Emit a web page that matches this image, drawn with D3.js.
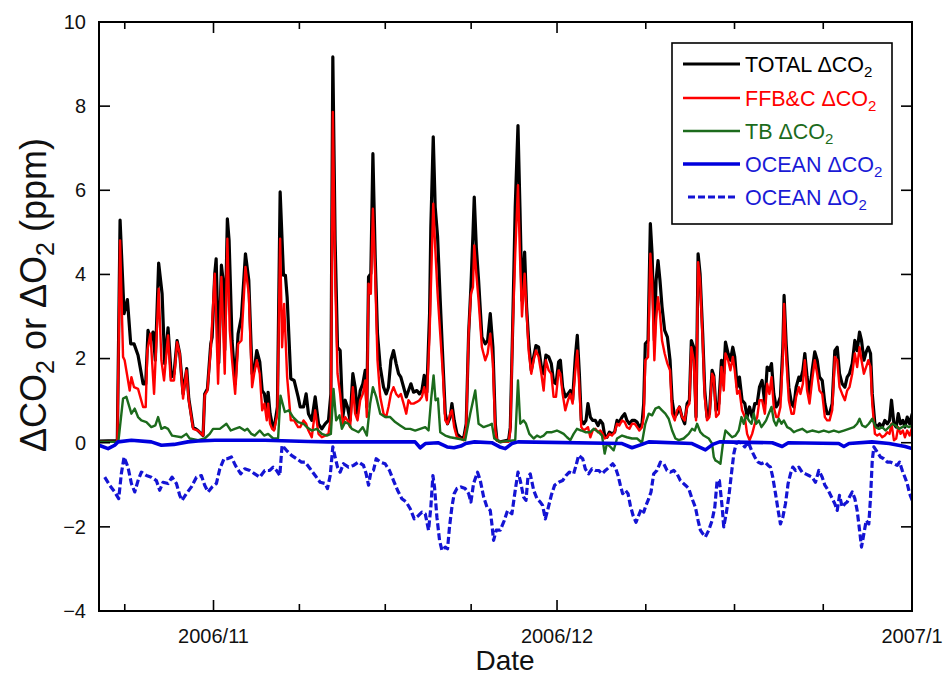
<!DOCTYPE html>
<html>
<head>
<meta charset="utf-8">
<script src="https://cdn.jsdelivr.net/npm/d3@7"></script>
<style>
  html, body { margin: 0; padding: 0; background: #fff; }
  svg { display: block; font-family: "Liberation Sans", Arial, Helvetica, sans-serif; }
</style>
</head>
<body>
<svg id="chart" width="945" height="676"></svg>
<script>
// Time is given in days since 2006-10-22 00:00 UTC; values in ppm.
const startUTC = Date.UTC(2006, 9, 22);
const endUTC = Date.UTC(2007, 0, 1);

const totalCO2 = [
  [0,0.04],[1.60,0.05],[1.84,5.29],[2.19,3.07],[2.48,3.40],[2.77,2.35],[3.06,2.35],[3.41,2.08],[3.85,1.40],[4.08,1.40],
  [4.28,2.67],[4.49,2.43],[4.72,2.63],[4.92,1.96],[5.21,4.27],[5.51,3.54],[5.74,1.88],[6.03,2.73],[6.32,1.56],[6.55,1.64],
  [6.82,2.43],[7.05,2.12],[7.34,1.16],[7.66,1.76],[7.84,1.05],[8.22,0.37],[8.65,0.29],[9.09,0.17],[9.23,1.16],[9.47,1.28],
  [9.76,2.35],[9.88,2.51],[10.11,4.02],[10.23,4.37],[10.46,1.90],[10.69,4.22],[10.84,3.86],[10.98,2.20],[11.21,5.32],[11.36,4.81],
  [11.62,2.43],[11.89,1.40],[12.15,2.59],[12.44,2.99],[12.79,4.49],[13.08,3.86],[13.37,1.64],[13.55,1.72],[13.78,2.19],[14.04,1.92],
  [14.25,1.24],[14.45,1.16],[14.65,0.77],[14.77,1.20],[14.94,0.69],[15.12,0.45],[15.29,0.33],[15.58,0.85],[15.82,5.96],[16.11,3.98],
  [16.28,3.98],[16.43,3.46],[16.75,1.52],[17.04,1.48],[17.39,1.09],[17.57,0.85],[17.86,0.85],[18.09,1.16],[18.29,0.69],[18.58,0.53],
  [18.88,1.09],[19.17,0.45],[19.46,0.33],[19.75,0.45],[20.04,0.53],[20.25,1.16],[20.42,9.17],[20.62,4.80],[20.83,2.27],[21.06,2.19],
  [21.29,0.61],[21.50,1.01],[21.70,0.85],[21.93,0.53],[22.17,1.64],[22.37,1.32],[22.58,0.69],[22.81,1.24],[23.04,1.40],[23.25,1.72],
  [23.39,0.85],[23.54,3.94],[23.74,4.02],[23.92,6.87],[24.12,4.41],[24.32,2.59],[24.56,1.80],[24.85,1.32],[25.08,1.16],[25.28,1.32],
  [25.49,1.96],[25.72,2.19],[25.95,1.88],[26.16,1.64],[26.36,1.56],[26.60,1.32],[26.83,1.09],[27.03,1.24],[27.24,1.40],[27.47,1.20],
  [27.76,1.24],[27.99,1.16],[28.20,1.24],[28.40,1.60],[28.63,1.20],[28.87,3.07],[28.98,5.13],[29.19,7.27],[29.36,5.60],[29.57,4.89],
  [29.80,3.38],[30.03,1.96],[30.24,0.69],[30.44,0.45],[30.67,0.61],[30.82,0.93],[31.02,0.53],[31.26,0.21],[31.55,0.13],[31.84,0.10],
  [32.07,0.45],[32.28,2.59],[32.48,3.70],[32.66,4.97],[32.77,5.84],[32.95,4.65],[33.15,3.86],[33.44,2.51],[33.73,2.35],[33.94,2.43],
  [34.17,3.07],[34.40,2.27],[34.61,0.45],[34.75,0.06],[35.04,0.02],[35.77,0.06],[35.92,0.37],[36.12,2.67],[36.35,5.60],[36.59,7.54],
  [36.76,5.60],[36.94,3.38],[37.17,4.53],[37.34,3.23],[37.52,2.43],[37.75,1.72],[37.96,2.04],[38.16,2.31],[38.39,2.27],[38.63,1.80],
  [38.83,1.64],[39.03,2.08],[39.27,2.04],[39.50,1.88],[39.70,1.44],[39.91,1.40],[40.14,1.92],[40.29,1.96],[40.49,1.32],[40.72,1.09],
  [40.96,1.16],[41.16,1.24],[41.36,1.01],[41.60,2.04],[41.77,2.55],[41.95,1.64],[42.12,0.53],[42.33,0.45],[42.53,0.53],[42.70,0.93],
  [42.91,0.61],[43.11,0.53],[43.35,0.53],[43.58,0.41],[43.78,0.53],[43.99,0.45],[44.16,0.17],[44.36,0.13],[44.57,0.25],[44.80,0.21],
  [45.03,0.25],[45.24,0.53],[45.44,0.49],[45.68,0.61],[45.91,0.69],[46.11,0.53],[46.32,0.45],[46.55,0.53],[46.78,0.53],[46.99,0.49],
  [47.19,0.37],[47.42,0.45],[47.57,0.93],[47.71,2.35],[47.95,2.43],[48.15,5.21],[48.30,4.49],[48.50,2.43],[48.65,3.86],[48.82,4.33],
  [48.99,3.86],[49.17,3.23],[49.40,2.67],[49.64,2.51],[49.87,1.96],[50.05,1.01],[50.28,0.61],[50.48,0.69],[50.69,0.85],[50.92,0.61],
  [51.15,0.45],[51.36,0.93],[51.56,1.01],[51.73,2.43],[51.94,2.27],[52.14,0.61],[52.32,4.49],[52.49,4.02],[52.72,2.59],[52.90,1.24],
  [53.10,0.61],[53.31,0.69],[53.54,1.72],[53.69,1.60],[53.89,0.77],[54.13,0.93],[54.36,1.96],[54.56,1.64],[54.71,2.39],[54.94,2.12],
  [55.14,1.96],[55.35,2.27],[55.52,2.04],[55.73,1.32],[55.93,1.56],[56.16,1.01],[56.40,0.93],[56.60,0.61],[56.81,0.85],[57.04,0.61],
  [57.27,0.93],[57.48,0.93],[57.68,1.32],[57.91,1.48],[58.15,0.93],[58.35,1.80],[58.55,1.72],[58.73,1.88],[58.93,1.16],[59.14,0.85],
  [59.31,0.93],[59.51,1.09],[59.72,2.27],[59.83,3.50],[60.01,2.35],[60.24,1.32],[60.48,0.93],[60.68,0.85],[60.88,1.32],[61.12,1.56],
  [61.26,1.48],[61.47,1.72],[61.64,2.12],[61.84,1.56],[62.05,1.16],[62.28,1.72],[62.51,2.16],[62.72,1.96],[62.92,1.56],[63.16,1.48],
  [63.39,0.93],[63.59,0.69],[63.80,0.69],[64.03,0.93],[64.26,2.19],[64.47,2.27],[64.67,1.64],[64.90,1.40],[65.14,1.32],[65.34,1.56],
  [65.54,1.64],[65.78,1.88],[66.01,2.43],[66.21,2.19],[66.42,2.63],[66.59,2.43],[66.80,1.96],[67.00,2.16],[67.18,2.27],[67.38,2.12],
  [67.53,1.16],[67.76,0.45],[67.96,0.37],[68.17,0.45],[68.40,0.37],[68.63,0.53],[68.84,0.45],[69.04,0.53],[69.21,1.01],[69.42,0.45],
  [69.62,0.37],[69.80,0.69],[70.00,0.45],[70.20,0.53],[70.38,0.37],[70.58,0.61],[70.79,0.45],[71.02,0.69]
];

const ffbcCO2 = [
  [0,0.02],[1.60,0.02],[1.84,4.81],[2.10,2.04],[2.24,1.96],[2.68,1.24],[2.83,1.56],[3.06,1.32],[3.41,1.28],[3.85,0.85],
  [4.08,0.85],[4.22,2.19],[4.49,2.59],[4.81,1.16],[5.21,3.66],[5.45,1.96],[5.68,1.48],[6.03,2.55],[6.26,1.48],[6.55,1.48],
  [6.82,2.39],[7.05,2.12],[7.34,1.05],[7.63,1.72],[7.84,1.01],[8.22,0.33],[8.65,0.29],[9.09,0.17],[9.23,1.13],[9.47,1.24],
  [9.76,2.23],[10.11,4.02],[10.40,1.40],[10.69,3.94],[10.98,1.64],[11.21,4.85],[11.42,2.67],[11.62,1.96],[11.89,1.16],[12.15,2.35],
  [12.44,2.43],[12.79,4.18],[13.08,3.54],[13.37,1.32],[13.55,1.64],[13.78,1.96],[14.04,1.64],[14.25,0.77],[14.45,0.93],[14.65,0.53],
  [14.77,0.93],[14.94,0.45],[15.12,0.33],[15.29,0.29],[15.58,0.69],[15.82,4.85],[15.99,2.27],[16.17,3.30],[16.43,1.56],[16.75,0.53],
  [17.04,0.53],[17.39,0.37],[17.57,0.37],[17.86,0.53],[18.09,0.45],[18.29,0.29],[18.58,0.13],[18.88,0.77],[19.17,0.21],[19.46,0.13],
  [19.75,0.17],[20.04,0.21],[20.25,0.61],[20.42,7.86],[20.62,4.00],[20.83,1.64],[21.06,1.16],[21.29,0.45],[21.50,0.61],[21.70,0.53],
  [21.93,0.37],[22.17,1.32],[22.37,0.69],[22.58,0.53],[22.81,1.01],[23.04,1.16],[23.25,1.48],[23.39,0.61],[23.54,3.78],[23.74,3.54],
  [23.92,5.56],[24.12,4.02],[24.32,1.96],[24.56,1.09],[24.85,0.69],[25.08,0.61],[25.28,0.85],[25.49,1.16],[25.72,1.32],[25.95,1.16],
  [26.16,1.09],[26.36,1.16],[26.60,0.93],[26.83,0.69],[27.03,1.01],[27.24,0.93],[27.47,0.93],[27.76,0.97],[27.99,1.01],[28.20,1.09],
  [28.40,1.32],[28.63,1.01],[28.87,2.59],[29.19,5.68],[29.36,4.65],[29.57,3.54],[29.80,2.59],[30.03,1.64],[30.24,0.53],[30.44,0.45],
  [30.67,0.69],[30.82,0.77],[31.02,0.37],[31.26,0.13],[31.55,0.10],[31.84,0.06],[32.07,0.37],[32.28,2.59],[32.48,3.54],[32.66,3.70],
  [32.77,4.69],[32.95,4.02],[33.15,3.38],[33.44,2.27],[33.73,1.96],[33.94,2.12],[34.17,2.59],[34.40,1.88],[34.61,0.29],[34.75,0.06],
  [35.04,0.02],[35.77,0.02],[35.92,0.29],[36.12,2.59],[36.35,4.49],[36.59,6.12],[36.76,4.49],[36.94,3.00],[37.17,4.02],[37.34,3.15],
  [37.52,2.19],[37.75,1.64],[37.96,1.96],[38.16,2.19],[38.39,2.04],[38.63,1.64],[38.83,1.24],[39.03,1.96],[39.27,1.72],[39.50,1.64],
  [39.70,1.09],[39.91,1.09],[40.14,1.72],[40.29,1.64],[40.49,1.16],[40.72,0.77],[40.96,1.01],[41.16,1.16],[41.36,0.93],[41.60,1.72],
  [41.77,2.19],[41.95,1.32],[42.12,0.37],[42.33,0.29],[42.53,0.33],[42.70,0.37],[42.91,0.13],[43.11,0.29],[43.35,0.33],[43.58,0.25],
  [43.78,0.29],[43.99,0.21],[44.16,0.10],[44.36,0.13],[44.57,0.21],[44.80,0.17],[45.03,0.25],[45.24,0.45],[45.44,0.41],[45.68,0.53],
  [45.91,0.49],[46.11,0.37],[46.32,0.33],[46.55,0.45],[46.78,0.45],[46.99,0.37],[47.19,0.29],[47.42,0.37],[47.57,0.61],[47.71,1.96],
  [47.95,2.04],[48.15,4.49],[48.30,3.86],[48.50,1.96],[48.65,2.91],[48.82,3.46],[48.99,3.07],[49.17,2.43],[49.40,2.12],[49.64,1.88],
  [49.87,1.72],[50.05,0.69],[50.28,0.53],[50.48,0.77],[50.69,0.85],[50.92,0.61],[51.15,0.53],[51.36,0.85],[51.56,0.93],[51.73,2.27],
  [51.94,1.96],[52.14,0.53],[52.32,4.29],[52.49,3.86],[52.72,2.43],[52.90,1.09],[53.10,0.53],[53.31,0.61],[53.54,1.64],[53.69,1.56],
  [53.89,0.61],[54.13,0.69],[54.36,1.80],[54.56,1.24],[54.71,2.12],[54.94,1.96],[55.14,1.72],[55.35,2.04],[55.52,1.72],[55.73,1.16],
  [55.93,1.24],[56.16,0.77],[56.40,0.61],[56.60,0.21],[56.81,0.06],[57.04,0.21],[57.27,0.45],[57.48,0.61],[57.68,1.01],[57.91,1.01],
  [58.15,0.69],[58.35,1.40],[58.55,1.16],[58.73,1.56],[58.93,0.85],[59.14,0.61],[59.31,0.61],[59.51,0.85],[59.72,2.04],[59.83,3.30],
  [60.01,2.04],[60.24,1.01],[60.48,0.69],[60.68,0.69],[60.88,1.09],[61.12,1.32],[61.26,1.16],[61.47,1.40],[61.64,1.96],[61.84,1.24],
  [62.05,0.93],[62.28,1.48],[62.51,1.96],[62.72,1.64],[62.92,1.24],[63.16,1.16],[63.39,0.61],[63.59,0.53],[63.80,0.53],[64.03,0.77],
  [64.26,2.04],[64.47,1.96],[64.67,1.32],[64.90,1.16],[65.14,1.01],[65.34,1.24],[65.54,1.32],[65.78,1.64],[66.01,2.12],[66.21,1.80],
  [66.42,2.27],[66.59,1.96],[66.80,1.64],[67.00,1.80],[67.18,1.96],[67.38,1.80],[67.53,0.93],[67.76,0.21],[67.96,0.17],[68.17,0.21],
  [68.40,0.13],[68.63,0.17],[68.84,0.25],[69.04,0.21],[69.21,0.45],[69.42,0.06],[69.62,0.10],[69.80,0.37],[70.00,0.21],[70.20,0.29],
  [70.38,0.13],[70.58,0.29],[70.79,0.17],[71.02,0.37]
];

const tbCO2 = [
  [0,0.02],[1.69,0.02],[2.10,1.05],[2.39,1.09],[2.83,0.69],[3.12,0.81],[3.41,0.61],[3.70,0.53],[4.14,0.49],[4.57,0.37],
  [4.92,0.41],[5.16,0.61],[5.45,0.33],[5.74,0.37],[6.03,0.33],[6.38,0.17],[7.20,0.13],[7.63,0.21],[7.92,0.10],[8.65,0.06],
  [9.23,0.10],[9.67,0.21],[9.96,0.33],[10.55,0.33],[11.13,0.45],[11.51,0.29],[11.86,0.33],[12.29,0.37],[12.73,0.29],[12.96,0.33],
  [13.31,0.21],[13.60,0.17],[14.04,0.29],[14.42,0.17],[14.77,0.21],[15.21,0.10],[15.64,0.10],[15.85,1.12],[16.23,0.73],[16.58,0.77],
  [16.95,0.61],[17.39,0.49],[17.86,0.45],[18.15,0.37],[18.58,0.29],[19.02,0.33],[19.46,0.21],[19.90,0.17],[20.25,0.21],[20.48,1.28],
  [20.71,0.53],[21.00,0.65],[21.21,0.33],[21.50,0.49],[21.79,0.45],[22.08,0.33],[22.37,0.29],[22.66,0.25],[23.04,0.37],[23.39,0.17],
  [23.68,0.93],[23.92,1.32],[24.21,1.09],[24.56,0.69],[24.99,0.61],[25.43,0.61],[25.87,0.49],[26.30,0.41],[26.74,0.33],[27.18,0.33],
  [27.61,0.29],[28.05,0.33],[28.49,0.37],[28.78,0.29],[29.01,1.05],[29.22,1.60],[29.39,1.01],[29.60,1.05],[29.80,0.25],[30.24,0.17],
  [30.67,0.13],[31.26,0.10],[31.98,0.06],[32.42,0.69],[32.86,1.24],[33.15,0.45],[33.59,0.37],[34.02,0.41],[34.31,0.45],[34.52,0.10],
  [35.04,0.02],[36.35,0.06],[36.59,1.48],[36.79,0.45],[37.08,0.53],[37.29,0.45],[37.58,0.21],[37.96,0.10],[38.25,0.17],[38.54,0.13],
  [38.83,0.17],[39.12,0.25],[39.56,0.25],[39.99,0.29],[40.29,0.25],[40.58,0.21],[40.87,0.13],[41.16,0.06],[41.45,0.21],[41.74,0.33],
  [42.12,0.29],[42.47,0.25],[42.91,0.25],[43.20,0.33],[43.64,0.25],[43.93,0.17],[44.16,-0.26],[44.36,-0.02],[44.66,-0.10],[44.95,-0.18],
  [45.24,0.10],[45.68,0.17],[46.11,0.13],[46.55,0.10],[46.99,0.10],[47.42,0.00],[47.71,0.45],[48.01,0.69],[48.30,0.65],[48.59,0.81],
  [48.88,0.85],[49.17,0.77],[49.46,0.69],[49.75,0.57],[50.05,0.29],[50.34,0.10],[50.63,0.06],[51.06,0.10],[51.50,0.21],[51.79,0.33],
  [52.03,0.29],[52.23,0.45],[52.52,0.25],[52.81,0.17],[53.25,0.10],[53.54,-0.02],[53.69,-0.34],[53.83,-0.42],[54.07,-0.46],[54.27,-0.50],
  [54.47,-0.06],[54.71,0.29],[55.00,0.21],[55.29,0.13],[55.58,0.17],[55.87,0.29],[56.11,0.61],[56.31,0.45],[56.51,0.65],[56.75,0.53],
  [56.98,0.45],[57.18,0.69],[57.39,0.45],[57.62,0.53],[57.85,0.37],[58.06,0.45],[58.26,0.53],[58.49,0.69],[58.73,0.85],[58.93,0.53],
  [59.14,0.41],[59.37,0.57],[59.60,0.45],[59.81,0.53],[60.10,0.37],[60.39,0.33],[60.68,0.25],[60.97,0.29],[61.41,0.33],[61.84,0.25],
  [62.28,0.29],[62.86,0.25],[63.30,0.29],[63.74,0.25],[64.18,0.29],[64.61,0.25],[65.05,0.29],[65.49,0.33],[65.92,0.37],[66.21,0.45],
  [66.42,0.57],[66.65,0.41],[66.94,0.37],[67.23,0.45],[67.53,0.57],[67.82,0.37],[68.11,0.33],[68.40,0.37],[68.69,0.29],[68.98,0.37],
  [69.27,0.45],[69.56,0.41],[69.86,0.33],[70.15,0.37],[70.44,0.41],[70.73,0.37],[71.02,0.41]
];

const oceanCO2 = [
  [0,-0.06],[0.79,-0.14],[1.37,-0.06],[1.66,0.02],[2.83,0.06],[4.57,0.02],[5.45,-0.06],[6.55,-0.04],[7.76,0.02],[8.65,0.04],
  [10.11,0.06],[14.48,0.06],[18.26,0.03],[20.00,0.02],[27.60,0.02],[28.05,-0.12],[28.50,-0.02],[29.60,0.00],[30.40,-0.10],[31.00,-0.12],
  [31.60,-0.08],[32.00,-0.02],[32.80,0.02],[34.30,0.00],[35.00,-0.10],[35.48,-0.14],[36.06,-0.02],[36.59,0.02],[45.68,-0.02],[46.55,-0.12],
  [47.42,-0.04],[48.01,0.02],[51.79,-0.02],[52.96,-0.17],[53.60,-0.04],[54.20,0.02],[58.80,0.00],[59.66,-0.09],[60.20,0.00],[64.60,-0.02],
  [65.05,-0.09],[65.50,-0.02],[67.50,0.02],[69.00,-0.02],[70.40,-0.09],[71.02,-0.14]
];

const oceanO2 = [
  [0.50,-0.82],[0.93,-1.01],[1.37,-1.17],[1.72,-1.33],[1.95,-0.74],[2.19,-0.34],[2.53,-0.58],[2.83,-0.97],[3.12,-1.17],[3.41,-0.90],
  [3.70,-0.70],[4.14,-0.78],[4.57,-0.82],[5.01,-0.90],[5.30,-1.13],[5.59,-0.94],[6.03,-0.97],[6.38,-0.82],[6.76,-0.97],[7.05,-1.25],
  [7.25,-1.37],[7.63,-1.21],[8.07,-1.05],[8.51,-0.82],[8.94,-0.78],[9.23,-1.01],[9.53,-1.17],[9.88,-1.05],[10.25,-0.97],[10.55,-0.62],
  [10.92,-0.38],[11.21,-0.38],[11.56,-0.34],[11.91,-0.54],[12.38,-0.74],[12.73,-0.62],[13.17,-0.66],[13.60,-0.74],[14.04,-0.82],[14.48,-0.66],
  [14.91,-0.66],[15.21,-0.58],[15.50,-0.66],[15.79,-0.78],[15.99,-0.06],[16.37,-0.18],[16.81,-0.30],[17.25,-0.38],[17.68,-0.46],[18.00,-0.46],
  [18.44,-0.62],[18.88,-0.78],[19.31,-0.94],[19.75,-0.97],[19.95,-1.09],[20.19,-0.78],[20.42,-0.10],[20.62,-0.34],[20.83,-0.58],[21.06,-0.70],
  [21.35,-0.50],[21.79,-0.58],[22.23,-0.54],[22.66,-0.46],[23.10,-0.54],[23.33,-0.74],[23.54,-1.01],[23.74,-0.70],[23.97,-0.66],[24.21,-0.38],
  [24.56,-0.46],[24.99,-0.50],[25.37,-0.66],[25.72,-0.90],[26.07,-1.13],[26.45,-1.33],[26.83,-1.41],[27.18,-1.57],[27.53,-1.81],[27.91,-1.73],
  [28.20,-1.65],[28.49,-1.69],[28.78,-2.08],[28.98,-1.53],[29.16,-0.78],[29.30,-1.05],[29.51,-1.77],[29.74,-2.32],[29.95,-2.56],[30.24,-2.48],
  [30.44,-2.52],[30.61,-2.00],[30.82,-1.53],[31.02,-1.21],[31.26,-1.09],[31.61,-1.05],[31.98,-1.09],[32.28,-1.21],[32.48,-1.41],[32.71,-0.97],
  [33.06,-0.70],[33.30,-0.90],[33.59,-1.29],[33.88,-1.53],[34.17,-1.61],[34.31,-1.93],[34.46,-2.32],[34.69,-2.08],[35.04,-2.08],[35.39,-1.85],
  [35.63,-1.65],[35.71,-1.61],[36.06,-1.69],[36.35,-1.13],[36.59,-0.70],[36.79,-0.90],[37.08,-1.29],[37.29,-1.37],[37.46,-0.82],[37.66,-0.74],
  [37.96,-1.13],[38.25,-1.33],[38.54,-1.41],[38.74,-1.49],[38.98,-1.81],[39.21,-1.57],[39.50,-1.25],[39.79,-1.01],[40.14,-0.94],[40.49,-0.90],
  [40.78,-0.78],[41.07,-0.70],[41.45,-0.74],[41.66,-0.54],[41.89,-0.30],[42.24,-0.38],[42.47,-0.62],[42.76,-0.74],[43.05,-0.62],[43.35,-0.66],
  [43.64,-0.66],[43.93,-0.74],[44.22,-0.66],[44.57,-0.58],[44.86,-0.50],[45.09,-0.58],[45.33,-0.78],[45.53,-1.01],[45.73,-1.21],[45.97,-1.13],
  [46.20,-1.21],[46.40,-1.49],[46.64,-1.73],[46.90,-1.89],[47.13,-1.73],[47.37,-1.57],[47.57,-1.65],[47.77,-1.49],[48.01,-1.33],[48.21,-1.17],
  [48.44,-0.74],[48.73,-0.66],[49.03,-0.46],[49.32,-0.50],[49.61,-0.66],[49.90,-0.70],[50.19,-0.66],[50.48,-0.74],[50.77,-0.90],[51.21,-1.01],
  [51.50,-1.09],[51.79,-1.33],[52.08,-1.53],[52.32,-1.85],[52.52,-2.08],[52.72,-2.16],[52.96,-2.24],[53.25,-2.08],[53.54,-1.85],[53.78,-1.53],
  [53.98,-0.90],[54.18,-0.90],[54.42,-1.53],[54.56,-2.00],[54.77,-1.69],[55.00,-1.29],[55.23,-0.74],[55.44,-0.26],[55.64,-0.02],[55.87,0.02],
  [56.16,-0.02],[56.40,-0.10],[56.69,0.02],[56.98,-0.18],[57.27,-0.34],[57.56,-0.46],[57.85,-0.50],[58.15,-0.46],[58.44,-0.54],[58.64,-0.58],
  [58.84,-0.82],[59.08,-1.21],[59.31,-1.61],[59.51,-1.93],[59.72,-1.77],[59.95,-1.45],[60.18,-0.97],[60.39,-0.74],[60.59,-0.58],[60.83,-0.66],
  [61.12,-0.58],[61.41,-0.70],[61.70,-0.74],[61.99,-0.78],[62.28,-0.82],[62.57,-0.94],[62.86,-0.66],[63.16,-0.82],[63.39,-1.01],[63.68,-1.13],
  [63.97,-1.29],[64.26,-1.45],[64.47,-1.61],[64.67,-1.25],[64.90,-1.53],[65.14,-1.45],[65.34,-1.41],[65.54,-1.29],[65.78,-1.17],[66.01,-1.33],
  [66.21,-1.61],[66.42,-2.08],[66.59,-2.48],[66.80,-2.16],[67.00,-1.85],[67.23,-1.93],[67.38,-1.29],[67.53,-0.42],[67.67,-0.10],[67.96,-0.22],
  [68.25,-0.34],[68.54,-0.38],[68.84,-0.46],[69.13,-0.46],[69.42,-0.50],[69.71,-0.54],[69.91,-0.46],[70.15,-0.66],[70.38,-0.82],[70.58,-0.97],
  [70.79,-1.21],[71.02,-1.37]
];

// Axis tick values and labels
const yTickValues = [-4, -2, 0, 2, 4, 6, 8, 10];
const monthStarts = [[2006, 9], [2006, 10], [2006, 11], [2007, 0]];
const monthLabels = ["", "2006/11", "2006/12", "2007/1"];

// Legend entries
const legendLabels = [
  ["TOTAL \u0394CO", "2"],
  ["FFB&C \u0394CO", "2"],
  ["TB \u0394CO", "2"],
  ["OCEAN \u0394CO", "2"],
  ["OCEAN \u0394O", "2"]
];

// Drawing styles, in legend order
const styles = [
  { data: totalCO2, color: "#000000", text: "#000000", width: 3.2, dash: null },
  { data: ffbcCO2,  color: "#ff0000", text: "#ff0000", width: 2.4, dash: null },
  { data: tbCO2,    color: "#1c6b1c", text: "#1c6b1c", width: 2.4, dash: null },
  { data: oceanCO2, color: "#0000dd", text: "#1a1ad6", width: 3.6, dash: null },
  { data: oceanO2,  color: "#1414d4", text: "#1a1ad6", width: 3.2, dash: "7,3" }
];

const svg = d3.select("#chart");
const plot = { left: 99, right: 912, top: 22, bottom: 611 };
const DAY = 864e5;
const toDate = d => new Date(startUTC + d * DAY);

const x = d3.scaleUtc().domain([new Date(startUTC), new Date(endUTC)]).range([plot.left, plot.right]);
const y = d3.scaleLinear().domain([-4, 10]).range([plot.bottom, plot.top]);

svg.append("defs").append("clipPath").attr("id", "plotClip")
  .append("rect")
  .attr("x", plot.left).attr("y", plot.top)
  .attr("width", plot.right - plot.left).attr("height", plot.bottom - plot.top);

// Series lines (ocean CO2 on top)
const line = d3.line().x(d => x(toDate(d[0]))).y(d => y(d[1]));
const g = svg.append("g").attr("clip-path", "url(#plotClip)");
const drawOrder = [0, 1, 2, 4, 3];
drawOrder.forEach(i => {
  const s = styles[i];
  g.append("path")
    .datum(s.data)
    .attr("d", line)
    .attr("fill", "none")
    .attr("stroke", s.color)
    .attr("stroke-width", s.width)
    .attr("stroke-linejoin", "round")
    .attr("stroke-dasharray", s.dash);
});

// Time ticks: month starts (major) and quarter-month steps (minor)
const majorDates = monthStarts.map(([yy, mm]) => new Date(Date.UTC(yy, mm, 1)));
const minorDates = [];
for (let i = 0; i < monthStarts.length - 1; i++) {
  const a = majorDates[i].getTime(), b = majorDates[i + 1].getTime();
  for (let k = 1; k <= 3; k++) minorDates.push(new Date(a + (b - a) * k / 4));
}
const inDomain = d => d >= startUTC && d <= endUTC;
const frame = svg.append("g");

function drawXTicks(dates, len) {
  dates.filter(inDomain).forEach(d => {
    const px = x(d);
    frame.append("line").attr("x1", px).attr("x2", px)
      .attr("y1", plot.bottom).attr("y2", plot.bottom - len)
      .attr("stroke", "#000").attr("stroke-width", 1.6);
    frame.append("line").attr("x1", px).attr("x2", px)
      .attr("y1", plot.top).attr("y2", plot.top + len)
      .attr("stroke", "#000").attr("stroke-width", 1.6);
  });
}
drawXTicks(majorDates, 11);
drawXTicks(minorDates, 7);

// Y ticks on both sides, labels on the left
const yAxisLeft = d3.axisLeft(y).tickValues(yTickValues).tickSize(0).tickPadding(13).tickFormat(d3.format("d"));
const ya = svg.append("g").attr("transform", `translate(${plot.left},0)`).call(yAxisLeft);
ya.select(".domain").remove();
ya.selectAll("text").attr("font-size", 20).attr("fill", "#111").attr("font-family", "Liberation Sans, Arial, sans-serif");
yTickValues.forEach(v => {
  frame.append("line").attr("x1", plot.left).attr("x2", plot.left + 11)
    .attr("y1", y(v)).attr("y2", y(v)).attr("stroke", "#000").attr("stroke-width", 1.6);
  frame.append("line").attr("x1", plot.right).attr("x2", plot.right - 11)
    .attr("y1", y(v)).attr("y2", y(v)).attr("stroke", "#000").attr("stroke-width", 1.6);
});

// X tick labels
majorDates.forEach((d, i) => {
  if (!monthLabels[i] || !inDomain(d)) return;
  svg.append("text").attr("x", x(d)).attr("y", 643)
    .attr("text-anchor", "middle").attr("font-size", 20).attr("fill", "#111")
    .text(monthLabels[i]);
});

// Plot frame
frame.append("rect")
  .attr("x", plot.left).attr("y", plot.top)
  .attr("width", plot.right - plot.left).attr("height", plot.bottom - plot.top)
  .attr("fill", "none").attr("stroke", "#000").attr("stroke-width", 2);

// Axis titles
svg.append("text").attr("x", 505).attr("y", 670).attr("text-anchor", "middle")
  .attr("font-size", 28).attr("fill", "#111").text("Date");

const yt = svg.append("text").attr("transform", "translate(46,295) rotate(-90)")
  .attr("text-anchor", "middle").attr("font-size", 36).attr("fill", "#111");
yt.append("tspan").text("\u0394CO");
yt.append("tspan").attr("font-size", 25).attr("dy", 8).text("2");
yt.append("tspan").attr("dy", -8).text(" or \u0394O");
yt.append("tspan").attr("font-size", 25).attr("dy", 8).text("2");
yt.append("tspan").attr("dy", -8).text(" (ppm)");

// Legend
const legend = svg.append("g");
legend.append("rect").attr("x", 672).attr("y", 43).attr("width", 220).attr("height", 181)
  .attr("fill", "#fff").attr("stroke", "#000").attr("stroke-width", 1.6);
const rowY = [64, 98, 131, 164, 197];
legendLabels.forEach((lab, i) => {
  const s = styles[i];
  const yy = rowY[i];
  legend.append("line")
    .attr("x1", s.dash ? 688 : 683).attr("x2", s.dash ? 736 : 740)
    .attr("y1", yy).attr("y2", yy)
    .attr("stroke", s.color).attr("stroke-width", s.width)
    .attr("stroke-dasharray", s.dash);
  const t = legend.append("text").attr("x", 745).attr("y", yy + 8)
    .attr("font-size", 21.5).attr("fill", s.text);
  t.append("tspan").text(lab[0]);
  t.append("tspan").attr("font-size", 15).attr("dy", 5).text(lab[1]);
});
</script>
</body>
</html>
